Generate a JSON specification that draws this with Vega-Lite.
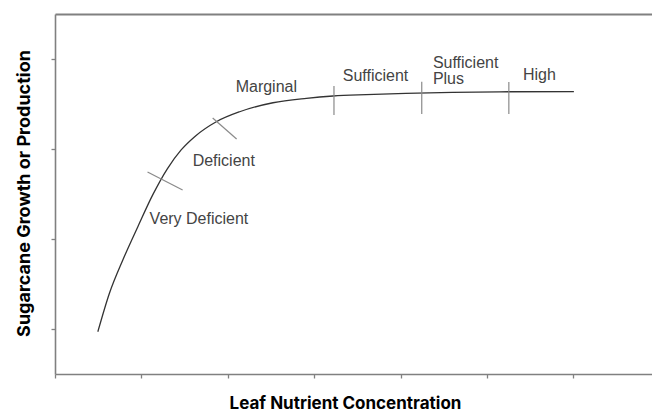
{
  "$schema": "https://vega.github.io/schema/vega-lite/v6.json",
  "width": 597,
  "height": 360,
  "autosize": "none",
  "padding": {"left": 55, "top": 14, "right": 0, "bottom": 38},
  "background": "white",
  "config": {"view": {"stroke": null}},
  "datasets": {
    "curve": [
      {"x": 0.496, "y": 0.97},
      {"x": 0.631, "y": 1.4},
      {"x": 0.785, "y": 1.767},
      {"x": 0.959, "y": 2.137},
      {"x": 1.131, "y": 2.49},
      {"x": 1.3, "y": 2.78},
      {"x": 1.46, "y": 2.99},
      {"x": 1.62, "y": 3.14},
      {"x": 1.867, "y": 3.303},
      {"x": 2.137, "y": 3.414},
      {"x": 2.523, "y": 3.514},
      {"x": 2.91, "y": 3.563},
      {"x": 3.218, "y": 3.589},
      {"x": 3.6, "y": 3.605},
      {"x": 4.06, "y": 3.619},
      {"x": 4.6, "y": 3.63},
      {"x": 5.253, "y": 3.636},
      {"x": 6.006, "y": 3.637}
    ],
    "marks": [
      {"x": 1.071, "y": 2.744, "x2": 1.477, "y2": 2.544},
      {"x": 1.825, "y": 3.344, "x2": 2.102, "y2": 3.111},
      {"x": 3.229, "y": 3.7, "x2": 3.229, "y2": 3.378},
      {"x": 4.245, "y": 3.748, "x2": 4.245, "y2": 3.389},
      {"x": 5.253, "y": 3.744, "x2": 5.253, "y2": 3.389}
    ],
    "labels": [
      {"label": "Very Deficient", "x": 1.095, "y": 2.222},
      {"label": "Deficient", "x": 1.593, "y": 2.867},
      {"label": "Marginal", "x": 2.091, "y": 3.689},
      {"label": "Sufficient", "x": 3.331, "y": 3.811},
      {"label": "Sufficient", "x": 4.374, "y": 3.956},
      {"label": "Plus", "x": 4.374, "y": 3.778},
      {"label": "High", "x": 5.417, "y": 3.822}
    ]
  },
  "resolve": {"axis": {"x": "independent", "y": "independent"}},
  "layer": [
    {
      "data": {"name": "curve"},
      "mark": {"type": "line", "interpolate": "monotone", "color": "#333333", "strokeWidth": 1.3},
      "encoding": {
        "x": {
          "field": "x", "type": "quantitative",
          "scale": {"domain": [0, 6.91], "nice": false, "zero": false},
          "axis": {
            "values": [0, 1, 2, 3, 4, 5, 6], "labels": false, "grid": false,
            "domainColor": "#808080", "domainWidth": 1.6, "tickColor": "#808080", "tickWidth": 1.3, "tickSize": 4,
            "title": "Leaf Nutrient Concentration", "titleFont": "Inter", "titleFontSize": 17, "titleFontWeight": "bold",
            "titleColor": "#000000", "titleX": 290, "titleY": 29, "titleBaseline": "middle"
          }
        },
        "y": {
          "field": "y", "type": "quantitative",
          "scale": {"domain": [0.5, 4.5], "nice": false, "zero": false},
          "axis": {
            "values": [1, 2, 3, 4], "labels": false, "grid": false,
            "domainColor": "#808080", "domainWidth": 1.6, "tickColor": "#808080", "tickWidth": 1.3, "tickSize": 4,
            "title": "Sugarcane Growth or Production", "titleFont": "Inter", "titleFontSize": 18, "titleFontWeight": "bold",
            "titleColor": "#000000", "titleX": -31, "titleY": 179, "titleBaseline": "middle", "titleAngle": -90
          }
        }
      }
    },
    {
      "data": {"name": "marks"},
      "mark": {"type": "rule", "color": "#8a8a8a", "strokeWidth": 1.2},
      "encoding": {
        "x": {
          "field": "x", "type": "quantitative",
          "axis": {"orient": "top", "labels": false, "ticks": false, "grid": false, "title": null, "domainColor": "#808080", "domainWidth": 1.8}
        },
        "y": {"field": "y", "type": "quantitative", "axis": null},
        "x2": {"field": "x2"},
        "y2": {"field": "y2"}
      }
    },
    {
      "data": {"name": "labels"},
      "mark": {"type": "text", "align": "left", "baseline": "middle", "font": "Liberation Sans", "fontSize": 16, "color": "#444444"},
      "encoding": {
        "x": {"field": "x", "type": "quantitative", "axis": null},
        "y": {"field": "y", "type": "quantitative", "axis": null},
        "text": {"field": "label"}
      }
    }
  ]
}
